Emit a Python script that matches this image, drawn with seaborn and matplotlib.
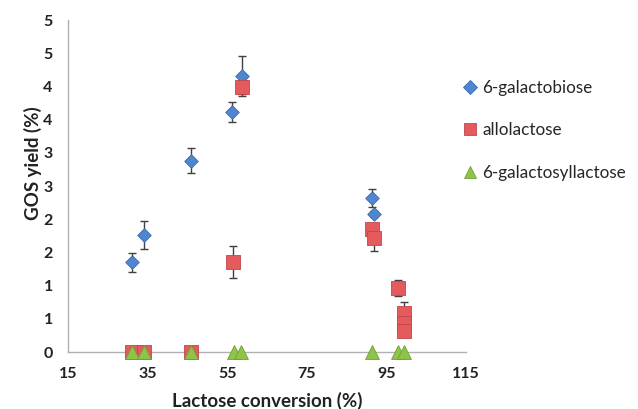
import matplotlib
matplotlib.use("Agg")
import matplotlib.pyplot as plt
import seaborn as sns
import pandas as pd
from matplotlib.lines import Line2D

# ---- data ----
conv_gal = [31.1, 34.2, 46.0, 56.2, 58.6, 91.5, 91.8]
yield_gal = [1.35, 1.76, 2.88, 3.62, 4.16, 2.32, 2.08]
err_gal = [0.14, 0.21, 0.185, 0.15, 0.30, 0.13, 0.05]

conv_allo = [31.2, 34.2, 45.9, 56.4, 58.6, 91.5, 91.8, 98.0, 99.4, 99.4, 99.4]
yield_allo = [0.0, 0.0, 0.0, 1.35, 3.99, 1.85, 1.72, 0.97, 0.58, 0.43, 0.31]
err_allo = [0.0, 0.0, 0.0, 0.24, 0.10, 0.05, 0.20, 0.12, 0.17, 0.05, 0.08]

conv_gsl = [31.2, 34.2, 46.0, 56.7, 58.5, 91.5, 97.8, 99.3]
yield_gsl = [0.0, 0.0, 0.0, 0.0, 0.0, 0.0, 0.0, 0.0]

series_names = ["6-galactobiose", "allolactose", "6-galactosyllactose"]
x_ticks = [15, 35, 55, 75, 95, 115]
y_ticks = [0, 0.5, 1, 1.5, 2, 2.5, 3, 3.5, 4, 4.5, 5]
y_tick_labels = ["0", "1", "1", "2", "2", "3", "3", "4", "4", "5", "5"]

sns.set_style("white")
plt.rcParams["font.family"] = ["Lato", "DejaVu Sans"]

fig = plt.figure(figsize=(6.38, 4.09), dpi=100)
ax = fig.add_axes([68 / 638, 1 - 352 / 409, (466 - 68) / 638, (352 - 20) / 409])

colors = {"6-galactobiose": "#4f86d0", "allolactose": "#e55a5c", "6-galactosyllactose": "#8fc44a"}
edges = {"6-galactobiose": "#3a6cb4", "allolactose": "#c0464a", "6-galactosyllactose": "#6fa032"}
markers = {"6-galactobiose": "D", "allolactose": "s", "6-galactosyllactose": "^"}
sizes = {"6-galactobiose": 48, "allolactose": 105, "6-galactosyllactose": 100}

df_gal = pd.DataFrame({"conv": conv_gal, "y": yield_gal, "err": err_gal})
df_allo = pd.DataFrame({"conv": conv_allo, "y": yield_allo, "err": err_allo})
df_gsl = pd.DataFrame({"conv": conv_gsl, "y": yield_gsl})

# error bars
ax.errorbar(df_gal["conv"], df_gal["y"], yerr=df_gal["err"], fmt="none",
            ecolor="#404040", elinewidth=1.0, capsize=3, capthick=1.0, zorder=2)
ax.errorbar(df_allo["conv"], df_allo["y"], yerr=df_allo["err"], fmt="none",
            ecolor="#404040", elinewidth=1.0, capsize=3, capthick=1.0, zorder=3)

for name, df, z in [("6-galactobiose", df_gal, 4), ("allolactose", df_allo, 5),
                    ("6-galactosyllactose", df_gsl, 6)]:
    sns.scatterplot(data=df, x="conv", y="y", ax=ax, color=colors[name],
                    marker=markers[name], s=sizes[name], edgecolor=edges[name],
                    linewidth=0.6, zorder=z, clip_on=False)

ax.set_xlim(15, 115)
ax.set_ylim(0, 5)
ax.set_xticks(x_ticks, labels=[str(t) for t in x_ticks], fontweight="bold", fontsize=11.5)
ax.set_yticks(y_ticks, labels=y_tick_labels, fontweight="bold", fontsize=11.5)

for side in ["top", "right"]:
    ax.spines[side].set_visible(False)
for side in ["left", "bottom"]:
    ax.spines[side].set_color("#b0b0b0")
    ax.spines[side].set_linewidth(1.0)
ax.tick_params(axis="both", which="major", direction="out", length=5, width=1.0,
               color="#b0b0b0", pad=6, labelcolor="#222222")

ax.set_xlabel("Lactose conversion (%)", fontsize=13.5, fontweight="bold", color="#222222")
ax.set_ylabel("GOS yield (%)", fontsize=13.5, fontweight="bold", color="#222222")
ax.xaxis.set_label_coords(0.5, -0.12)
ax.yaxis.set_label_coords(-0.065, 0.57)

handles = [Line2D([0], [0], marker=markers[n], linestyle="none", markersize=(7 if n == "6-galactobiose" else 8),
                  markerfacecolor=colors[n], markeredgecolor=edges[n], markeredgewidth=0.6)
           for n in series_names]
fig.legend(handles, series_names, loc="upper left", bbox_to_anchor=(455 / 638, 1 - 73 / 409),
           frameon=False, fontsize=12.3, handletextpad=0.2, labelspacing=1.55,
           handlelength=1.0, borderaxespad=0)

fig.savefig("out.png", dpi=100)
